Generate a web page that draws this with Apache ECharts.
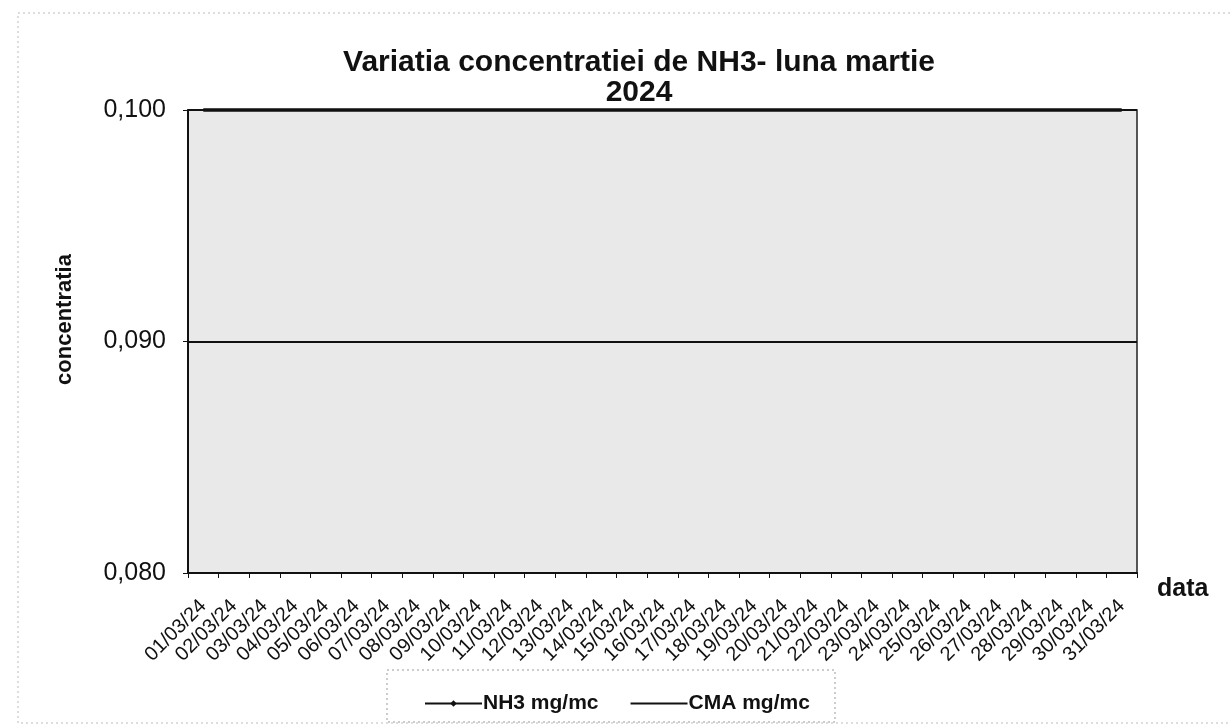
<!DOCTYPE html>
<html>
<head>
<meta charset="utf-8">
<script src="https://cdn.jsdelivr.net/npm/echarts@6/dist/echarts.min.js"></script>
<style>
  html, body { margin: 0; padding: 0; background: #fff; }
  #nh3chart { width: 1231px; height: 728px; }
</style>
</head>
<body>
<div id="nh3chart"></div>
<script>
// zilele lunii martie 2024
var zile = ['01/03/24','02/03/24','03/03/24','04/03/24','05/03/24','06/03/24','07/03/24',
            '08/03/24','09/03/24','10/03/24','11/03/24','12/03/24','13/03/24','14/03/24',
            '15/03/24','16/03/24','17/03/24','18/03/24','19/03/24','20/03/24','21/03/24',
            '22/03/24','23/03/24','24/03/24','25/03/24','26/03/24','27/03/24','28/03/24',
            '29/03/24','30/03/24','31/03/24'];
// NH3 - nu apare in zona graficului (sub 0,080), nu se poate citi
var nh3 = [null,null,null,null,null,null,null,null,null,null,null,null,null,null,null,null,
           null,null,null,null,null,null,null,null,null,null,null,null,null,null,null];
// CMA - valoarea maxima admisa
var cma = [0.1,0.1,0.1,0.1,0.1,0.1,0.1,0.1,0.1,0.1,0.1,0.1,0.1,0.1,0.1,0.1,
           0.1,0.1,0.1,0.1,0.1,0.1,0.1,0.1,0.1,0.1,0.1,0.1,0.1,0.1,0.1];
var yMin = 0.08, yMax = 0.1, yPas = 0.01;

var font = "'Liberation Sans', Arial, sans-serif";

var option = {
    animation: false,
    textStyle: { fontFamily: font, color: '#000' },
    title: {
        text: 'Variatia concentratiei de NH3- luna martie\n2024',
        left: 634, textAlign: 'center', top: 43,
        textStyle: { fontSize: 30, fontWeight: 'bold', color: '#111', lineHeight: 30, fontFamily: font }
    },
    grid: {
        left: 188, right: 94, top: 110, bottom: 155,
        show: true, backgroundColor: '#e9e9e9',
        borderColor: '#222', borderWidth: 1.5
    },
    legend: {
        left: 419, top: 688,
        itemWidth: 57, itemHeight: 8, itemGap: 31,
        textStyle: { fontSize: 21, fontWeight: 'bold', color: '#111', fontFamily: font, padding: [0,0,0,-4] },
        data: [
            { name: 'NH3 mg/mc' },
            { name: 'CMA mg/mc', itemStyle: { opacity: 0 } }
        ]
    },
    graphic: [
        { type: 'rect', shape: { x: 18, y: 13, width: 1240, height: 710 },
          style: { fill: null, stroke: '#bbb', lineWidth: 1, lineDash: [2, 3] } },
        { type: 'rect', shape: { x: 387, y: 670, width: 448, height: 52 },
          style: { fill: '#fff', stroke: '#999', lineWidth: 1, lineDash: [2, 3] } }
    ],
    xAxis: {
        type: 'category',
        data: zile,
        boundaryGap: true,
        name: 'data',
        nameLocation: 'end',
        nameGap: 20,
        nameTextStyle: { fontSize: 25, fontWeight: 'bold', color: '#111', verticalAlign: 'top', padding: [4,0,0,0] },
        axisLine: { lineStyle: { color: '#111', width: 2 } },
        axisTick: { show: true, length: 5, lineStyle: { color: '#111' } },
        axisLabel: { rotate: 45, interval: 0, fontSize: 20, color: '#111', margin: 30 }
    },
    yAxis: {
        type: 'value',
        min: yMin, max: yMax, interval: yPas,
        name: 'concentratia',
        nameLocation: 'middle',
        nameGap: 112,
        nameTextStyle: { fontSize: 22, fontWeight: 'bold', color: '#111', padding: [0,0,0,44] },
        axisLine: { show: true, lineStyle: { color: '#111', width: 2 } },
        axisTick: { show: true, length: 5, lineStyle: { color: '#111' } },
        axisLabel: {
            fontSize: 25, color: '#111', margin: 22,
            formatter: function (v) { return v.toFixed(3).replace('.', ','); }
        },
        splitLine: { show: true, lineStyle: { color: '#111', width: 2 } }
    },
    series: [
        {
            name: 'NH3 mg/mc', type: 'line', data: nh3,
            symbol: 'diamond', symbolSize: 7, clip: true,
            itemStyle: { color: '#111' },
            lineStyle: { color: '#111', width: 3 }
        },
        {
            name: 'CMA mg/mc', type: 'line', data: cma,
            symbol: 'none', clip: false,
            itemStyle: { color: '#111' },
            lineStyle: { color: '#111', width: 3.5 }
        }
    ]
};

var chart = echarts.init(document.getElementById('nh3chart'));
chart.setOption(option);
</script>
</body>
</html>
